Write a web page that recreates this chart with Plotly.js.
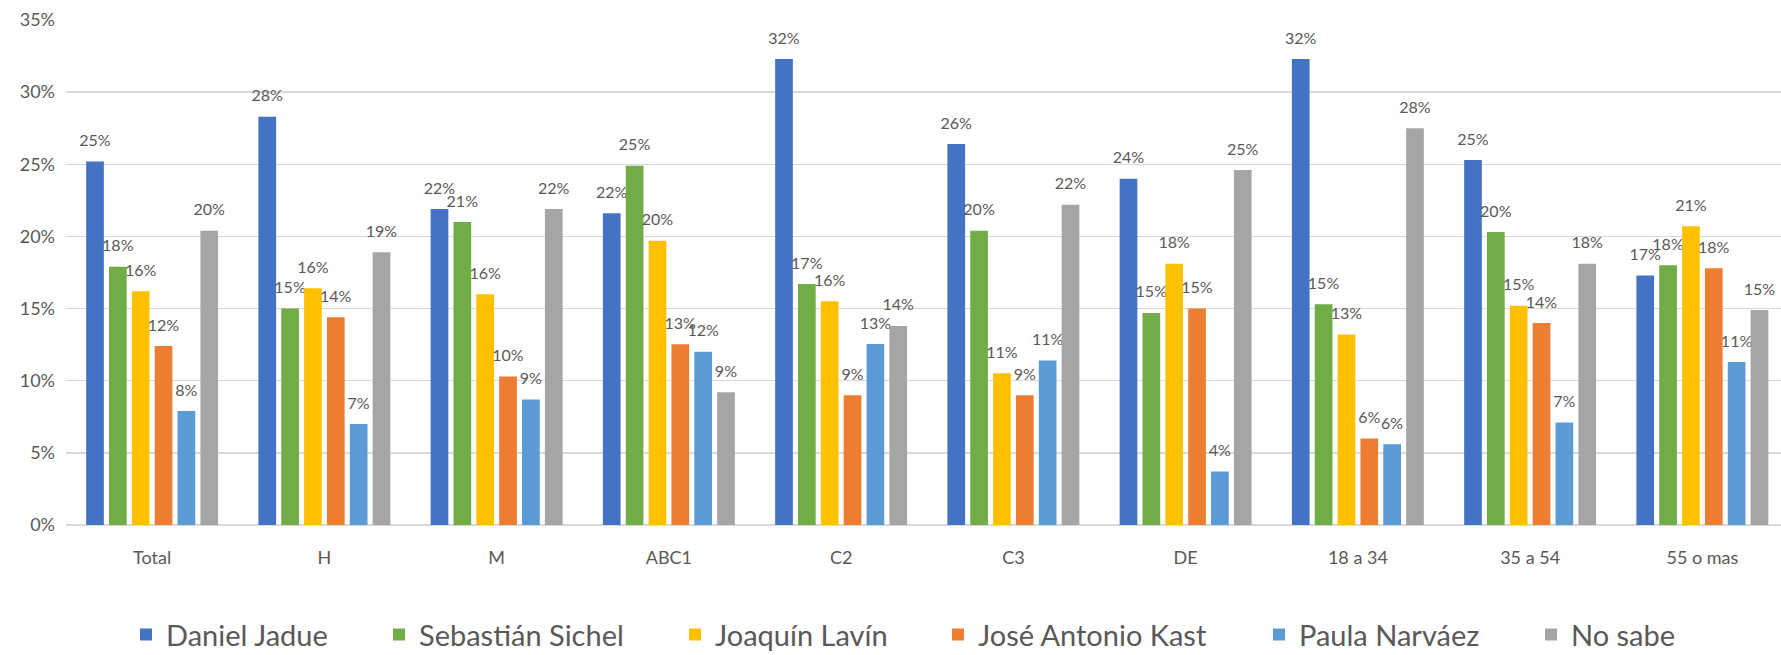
<!DOCTYPE html>
<html>
<head>
<meta charset="utf-8">
<script src="https://cdn.plot.ly/plotly-3.0.1.min.js"></script>
<style>html,body{margin:0;padding:0;background:#fff;}#chart{width:1781px;height:655px;}</style>
</head>
<body>
<div id="chart"></div>
<script>
const categories = ["Total","H","M","ABC1","C2","C3","DE","18 a 34","35 a 54","55 o mas"];
const seriesNames = ["Daniel Jadue","Sebastián Sichel","Joaquín Lavín","José Antonio Kast","Paula Narváez","No sabe"];
const danielJadue     = [0.252,0.283,0.219,0.216,0.323,0.264,0.240,0.323,0.253,0.173];
const sebastianSichel = [0.179,0.150,0.210,0.249,0.167,0.204,0.147,0.153,0.203,0.180];
const joaquinLavin    = [0.162,0.164,0.160,0.197,0.155,0.1052,0.181,0.132,0.152,0.207];
const joseAntonioKast = [0.124,0.144,0.103,0.1252,0.090,0.090,0.150,0.060,0.140,0.178];
const paulaNarvaez    = [0.079,0.070,0.087,0.120,0.1255,0.114,0.037,0.056,0.071,0.113];
const noSabe          = [0.204,0.189,0.219,0.092,0.138,0.222,0.246,0.275,0.181,0.149];
const colors = ["#4472C4","#70AD47","#FFC000","#ED7D31","#5B9BD5","#A5A5A5"];
// legend entry positions (text start, px from left of the page)
const legendTextStart = [166,419,715,978,1299,1571];

const values = [danielJadue, sebastianSichel, joaquinLavin, joseAntonioKast, paulaNarvaez, noSabe];
const FONT = "Lato, 'Open Sans', sans-serif";
const legendIds = ["legend","legend2","legend3","legend4","legend5","legend6"];
const traces = values.map((v,i)=>({
  type:"bar",
  name:seriesNames[i],
  legend:legendIds[i],
  x:categories,
  y:v,
  marker:{color:colors[i]},
  texttemplate:"<span style='font-size:16px'>%{y:.0%}</span><br> ",
  textposition:"outside",
  constraintext:"none",
  cliponaxis:false,
  textfont:{family:FONT,size:8,color:"#595959"},
  hoverinfo:"x+y"
}));

const layout = {
  width:1781, height:655,
  margin:{l:66,r:0,t:20,b:130},
  paper_bgcolor:"#fff", plot_bgcolor:"#fff",
  barmode:"group",
  bargap:0.204,
  bargroupgap:0.226,
  font:{family:FONT,color:"#595959"},
  xaxis:{
    type:"category",
    range:[-0.5, 9.4565],
    tickfont:{family:FONT,size:18,color:"#595959"},
    showgrid:false, showline:false, ticks:"", ticklabelstandoff:20
  },
  yaxis:{
    range:[0,0.35], dtick:0.05, tickformat:".0%",
    tickfont:{family:FONT,size:18,color:"#595959"},
    gridcolor:"#d9d9d9", gridwidth:1.5,
    zeroline:true, zerolinecolor:"#d9d9d9", zerolinewidth:1.5,
    showline:false, ticks:"", ticklabelstandoff:10
  },
  showlegend:true
};
legendIds.forEach((id,i)=>{
  layout[id] = {
    orientation:"h",
    xref:"container", x:(legendTextStart[i]-40)/1781, xanchor:"left",
    yref:"container", y:0.031, yanchor:"middle",
    font:{family:FONT,size:29,color:"#595959"},
    itemwidth:30, bgcolor:"rgba(0,0,0,0)"
  };
});
Plotly.newPlot("chart", traces, layout, {displayModeBar:false, staticPlot:true});
</script>
</body>
</html>
